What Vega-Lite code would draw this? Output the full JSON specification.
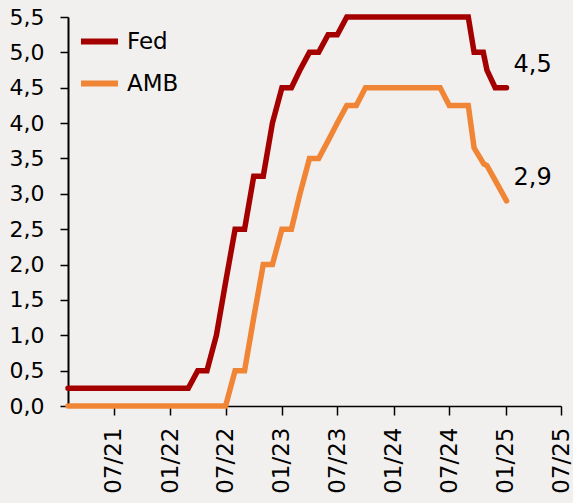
{
  "$schema": "https://vega.github.io/schema/vega-lite/v6.json",
  "width": 493,
  "height": 389,
  "autosize": {"type": "none"},
  "padding": {"left": 68, "top": 17, "right": 12, "bottom": 97},
  "background": "#f2f0ef",
  "config": {"view": {"stroke": null}, "font": "DejaVu Sans"},
  "datasets": {
    "rates": [
      {"date": "2021-02-01", "series": "Fed", "value": 0.25},
      {"date": "2022-03-01", "series": "Fed", "value": 0.25},
      {"date": "2022-04-01", "series": "Fed", "value": 0.5},
      {"date": "2022-05-01", "series": "Fed", "value": 0.5},
      {"date": "2022-06-01", "series": "Fed", "value": 1.0},
      {"date": "2022-07-01", "series": "Fed", "value": 1.75},
      {"date": "2022-08-01", "series": "Fed", "value": 2.5},
      {"date": "2022-09-01", "series": "Fed", "value": 2.5},
      {"date": "2022-10-01", "series": "Fed", "value": 3.25},
      {"date": "2022-11-01", "series": "Fed", "value": 3.25},
      {"date": "2022-12-01", "series": "Fed", "value": 4.0},
      {"date": "2023-01-01", "series": "Fed", "value": 4.5},
      {"date": "2023-02-01", "series": "Fed", "value": 4.5},
      {"date": "2023-03-01", "series": "Fed", "value": 4.75},
      {"date": "2023-04-01", "series": "Fed", "value": 5.0},
      {"date": "2023-05-01", "series": "Fed", "value": 5.0},
      {"date": "2023-06-01", "series": "Fed", "value": 5.25},
      {"date": "2023-07-01", "series": "Fed", "value": 5.25},
      {"date": "2023-08-01", "series": "Fed", "value": 5.5},
      {"date": "2024-09-01", "series": "Fed", "value": 5.5},
      {"date": "2024-09-20", "series": "Fed", "value": 5.0},
      {"date": "2024-10-20", "series": "Fed", "value": 5.0},
      {"date": "2024-11-01", "series": "Fed", "value": 4.75},
      {"date": "2024-11-28", "series": "Fed", "value": 4.5},
      {"date": "2025-01-04", "series": "Fed", "value": 4.5},
      {"date": "2021-02-01", "series": "AMB", "value": 0.0},
      {"date": "2022-07-01", "series": "AMB", "value": 0.0},
      {"date": "2022-08-01", "series": "AMB", "value": 0.5},
      {"date": "2022-09-01", "series": "AMB", "value": 0.5},
      {"date": "2022-10-01", "series": "AMB", "value": 1.25},
      {"date": "2022-11-01", "series": "AMB", "value": 2.0},
      {"date": "2022-12-01", "series": "AMB", "value": 2.0},
      {"date": "2023-01-01", "series": "AMB", "value": 2.5},
      {"date": "2023-02-01", "series": "AMB", "value": 2.5},
      {"date": "2023-03-01", "series": "AMB", "value": 3.0},
      {"date": "2023-04-01", "series": "AMB", "value": 3.5},
      {"date": "2023-05-01", "series": "AMB", "value": 3.5},
      {"date": "2023-06-01", "series": "AMB", "value": 3.75},
      {"date": "2023-07-01", "series": "AMB", "value": 4.0},
      {"date": "2023-08-01", "series": "AMB", "value": 4.25},
      {"date": "2023-09-01", "series": "AMB", "value": 4.25},
      {"date": "2023-10-01", "series": "AMB", "value": 4.5},
      {"date": "2024-06-01", "series": "AMB", "value": 4.5},
      {"date": "2024-07-01", "series": "AMB", "value": 4.25},
      {"date": "2024-09-01", "series": "AMB", "value": 4.25},
      {"date": "2024-09-20", "series": "AMB", "value": 3.65},
      {"date": "2024-10-22", "series": "AMB", "value": 3.42},
      {"date": "2024-11-01", "series": "AMB", "value": 3.4},
      {"date": "2024-11-28", "series": "AMB", "value": 3.19},
      {"date": "2025-01-04", "series": "AMB", "value": 2.9}
    ],
    "labels": [
      {"date": "2025-01-04", "value": 4.5, "label": "4,5"},
      {"date": "2025-01-04", "value": 2.9, "label": "2,9"}
    ]
  },
  "encoding": {
    "x": {
      "field": "date",
      "type": "temporal",
      "scale": {
        "type": "utc",
        "domain": [
          {"year": 2021, "month": 2, "date": 1, "utc": true},
          {"year": 2025, "month": 7, "date": 1, "utc": true}
        ]
      },
      "axis": {
        "title": null,
        "grid": false,
        "values": [
          {"year": 2021, "month": 7, "date": 1, "utc": true},
          {"year": 2022, "month": 1, "date": 1, "utc": true},
          {"year": 2022, "month": 7, "date": 1, "utc": true},
          {"year": 2023, "month": 1, "date": 1, "utc": true},
          {"year": 2023, "month": 7, "date": 1, "utc": true},
          {"year": 2024, "month": 1, "date": 1, "utc": true},
          {"year": 2024, "month": 7, "date": 1, "utc": true},
          {"year": 2025, "month": 1, "date": 1, "utc": true},
          {"year": 2025, "month": 7, "date": 1, "utc": true}
        ],
        "labelExpr": "utcFormat(datum.value, '%m/%y')",
        "labelAngle": -90,
        "labelFontSize": 23,
        "labelColor": "black",
        "labelPadding": 12,
        "labelOverlap": false,
        "labelFlush": false,
        "tickSize": 9,
        "tickColor": "black",
        "tickWidth": 1.5,
        "domainColor": "black",
        "domainWidth": 1.5
      }
    },
    "y": {
      "field": "value",
      "type": "quantitative",
      "scale": {"domain": [0, 5.5], "nice": false},
      "axis": {
        "title": null,
        "grid": false,
        "values": [0, 0.5, 1, 1.5, 2, 2.5, 3, 3.5, 4, 4.5, 5, 5.5],
        "labelExpr": "replace(format(datum.value, '.1f'), '.', ',')",
        "labelFontSize": 22,
        "labelColor": "black",
        "labelPadding": 16,
        "labelOverlap": false,
        "labelFlush": false,
        "tickSize": 8,
        "tickColor": "black",
        "tickWidth": 1.5,
        "domainColor": "black",
        "domainWidth": 2
      }
    }
  },
  "layer": [
    {
      "data": {"name": "rates"},
      "mark": {"type": "line", "strokeWidth": 5.5, "strokeCap": "round"},
      "encoding": {
        "color": {
          "field": "series",
          "type": "nominal",
          "scale": {"domain": ["Fed", "AMB"], "range": ["#a50000", "#f08536"]},
          "legend": {
            "title": null,
            "orient": "none",
            "legendX": 10,
            "legendY": 3,
            "padding": 0,
            "symbolType": "stroke",
            "symbolSize": 1369,
            "symbolStrokeWidth": 6,
            "labelFontSize": 23,
            "labelColor": "black",
            "labelOffset": 6,
            "rowPadding": 8
          }
        }
      }
    },
    {
      "data": {"name": "labels"},
      "mark": {"type": "text", "align": "left", "baseline": "middle", "dx": 7, "dy": -23, "fontSize": 24, "color": "black"},
      "encoding": {
        "text": {"field": "label"}
      }
    }
  ]
}
